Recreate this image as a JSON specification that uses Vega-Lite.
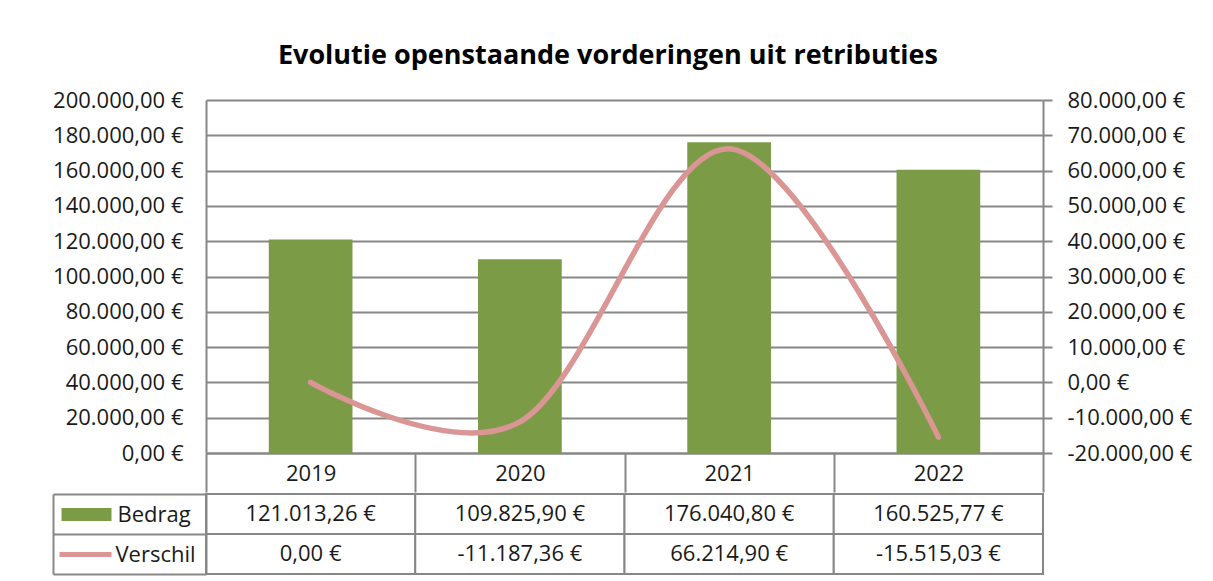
{
  "$schema": "https://vega.github.io/schema/vega-lite/v6.json",
  "padding": {"left": 52, "top": 42, "right": 5, "bottom": 5},
  "background": "white",
  "config": {
    "locale": {"number": {"decimal": ",", "thousands": ".", "grouping": [3], "currency": ["", " €"], "minus": "-"}},
    "font": "Open Sans",
    "view": {"stroke": null},
    "axis": {"labelFont": "Open Sans", "labelFontSize": 22, "labelColor": "#1a1a1a"}
  },
  "title": {"text": "Evolutie openstaande vorderingen uit retributies", "font": "Open Sans", "fontSize": 27, "fontWeight": "bold", "color": "#000000", "anchor": "middle", "offset": 19, "dx": -14},
  "datasets": {
    "jaren": [
      {"Jaar": "2019", "Bedrag": 121013.26, "Verschil": 0},
      {"Jaar": "2020", "Bedrag": 109825.90, "Verschil": -11187.36},
      {"Jaar": "2021", "Bedrag": 176040.80, "Verschil": 66214.90},
      {"Jaar": "2022", "Bedrag": 160525.77, "Verschil": -15515.03}
    ]
  },
  "spacing": 0,
  "vconcat": [
    {
      "width": 837,
      "height": 353,
      "data": {"name": "jaren"},
      "encoding": {"x": {"field": "Jaar", "type": "ordinal", "scale": {"paddingInner": 0, "paddingOuter": 0},
        "axis": {"orient": "bottom", "title": null, "tickBand": "extent", "ticks": true, "tickSize": 39, "tickColor": "#878787", "tickWidth": 2,
          "domain": true, "domainColor": "#878787", "domainWidth": 2, "labelAngle": 0, "labelBaseline": "middle", "labelPadding": -19, "grid": false}}},
      "layer": [
        {
          "mark": {"type": "bar", "color": "#7B9B47", "width": {"band": 0.4}},
          "encoding": {"y": {"field": "Bedrag", "type": "quantitative", "scale": {"domain": [0, 200000], "nice": false},
            "axis": {"orient": "left", "values": [0, 20000, 40000, 60000, 80000, 100000, 120000, 140000, 160000, 180000, 200000], "format": "$,.2f", "title": null,
              "grid": true, "gridColor": "#878787", "gridWidth": 2, "domain": true, "domainColor": "#878787", "domainWidth": 2, "ticks": false, "labelPadding": 23, "minExtent": 154, "maxExtent": 154}}}
        },
        {
          "mark": {"type": "line", "color": "#D99694", "strokeWidth": 5.5, "interpolate": "cardinal", "strokeCap": "round"},
          "encoding": {"y": {"field": "Verschil", "type": "quantitative", "scale": {"domain": [-20000, 80000], "nice": false},
            "axis": {"orient": "right", "values": [-20000, -10000, 0, 10000, 20000, 30000, 40000, 50000, 60000, 70000, 80000], "format": "$,.2f", "title": null,
              "grid": false, "domain": true, "domainColor": "#878787", "domainWidth": 2, "ticks": true, "tickColor": "#878787", "tickWidth": 2, "tickSize": 9, "labelPadding": 15}}}
        }
      ],
      "resolve": {"scale": {"y": "independent"}}
    },
    {
      "width": 837,
      "height": 80,
      "data": {"name": "jaren"},
      "transform": [{"fold": ["Bedrag", "Verschil"], "as": ["reeks", "waarde"]}],
      "encoding": {
        "x": {"field": "Jaar", "type": "ordinal", "axis": null, "scale": {"paddingInner": 0, "paddingOuter": 0}}
      },
      "layer": [
        {
          "mark": {"type": "rect", "fill": "white", "stroke": "#878787", "strokeWidth": 2},
          "encoding": {"y": {"field": "reeks", "type": "nominal", "scale": {"domain": ["Bedrag", "Verschil"], "paddingInner": 0, "paddingOuter": 0},
            "axis": {"orient": "left", "title": null, "labels": false, "tickBand": "extent", "ticks": true, "tickSize": 153, "tickColor": "#878787", "tickWidth": 2,
              "domain": true, "domainColor": "#878787", "domainWidth": 2, "grid": false}}}
        },
        {
          "mark": {"type": "text", "fontSize": 22, "font": "Open Sans", "color": "#1a1a1a"},
          "encoding": {
            "y": {"field": "reeks", "type": "nominal", "scale": {"domain": ["Bedrag", "Verschil"], "paddingInner": 0, "paddingOuter": 0},
              "axis": {"orient": "left", "title": null, "offset": 95, "domain": false, "grid": false, "ticks": true,
                "tickSize": {"condition": {"test": "datum.value === 'Bedrag'", "value": 50}, "value": 52},
                "tickWidth": {"condition": {"test": "datum.value === 'Bedrag'", "value": 13}, "value": 5},
                "tickColor": {"condition": {"test": "datum.value === 'Bedrag'", "value": "#7B9B47"}, "value": "#D99694"},
                "labelAlign": "left", "labelPadding": -56, "labelFontSize": 22}},
            "text": {"field": "waarde", "type": "quantitative", "format": "$,.2f"}
          }
        },
        {
          "mark": {"type": "rect", "opacity": 0},
          "encoding": {"y": {"field": "reeks", "type": "nominal", "scale": {"domain": ["Bedrag", "Verschil"], "paddingInner": 0, "paddingOuter": 0},
            "axis": {"orient": "left", "title": null, "offset": 153, "labels": false, "ticks": false, "domain": true, "domainColor": "#878787", "domainWidth": 2, "grid": false}}}
        }
      ],
      "resolve": {"scale": {"y": "independent"}, "axis": {"y": "independent"}}
    }
  ]
}
